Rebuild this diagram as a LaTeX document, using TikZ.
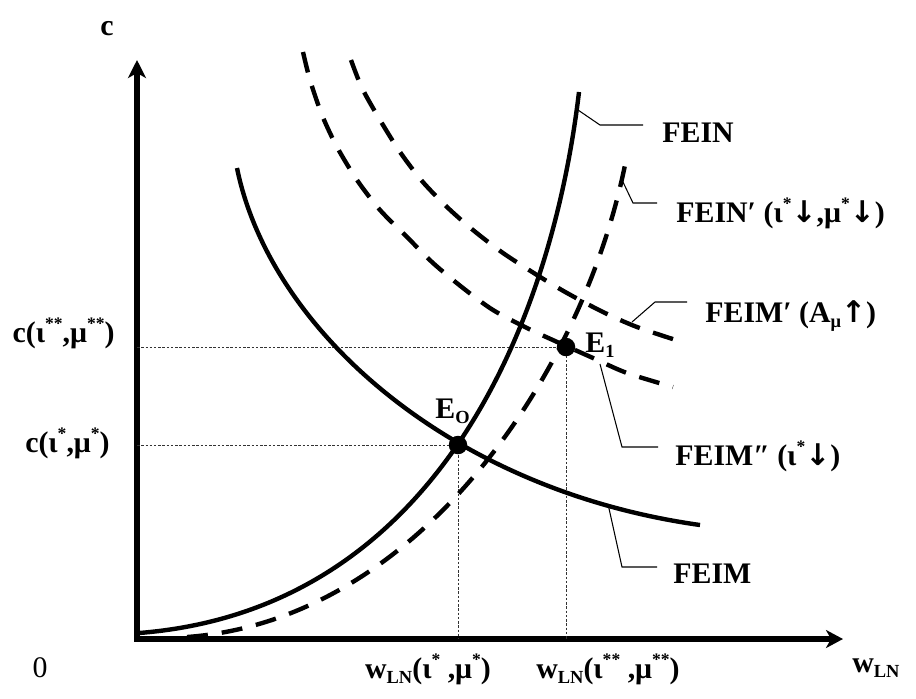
\documentclass[tikz,border=0pt]{standalone}
\usepackage{fontspec}
\setmainfont{Liberation Serif}
\newfontfamily\arrowfont{DejaVu Sans}
\usetikzlibrary{arrows.meta}

\newcommand{\upstar}[1]{\raisebox{0.9ex}{\fontsize{10}{10}\selectfont #1}}
\newcommand{\lowtxt}[1]{\raisebox{-0.4ex}{\fontsize{10.5}{10}\selectfont #1}}
\newcommand{\dn}{{\arrowfont\bfseries ↓}}
\newcommand{\upar}{{\arrowfont\bfseries ↑}}

\begin{document}
\begin{tikzpicture}[
    x=0.02cm, y=-0.02cm,
    every node/.style={font=\fontsize{17}{20}\selectfont\bfseries, inner sep=0pt},
    axis/.style={line width=2.9pt, {Stealth[length=3.6mm, width=3.6mm, inset=1mm]}-{Stealth[length=3.4mm, width=3.6mm, inset=1mm]}},
    curve/.style={line width=2.5pt},
    dashcurve/.style={line width=2.5pt, dash pattern=on 4.2mm off 2.8mm},
    guide/.style={line width=0.2mm, dash pattern=on 0.5mm off 0.35mm, black!80},
    leader/.style={line width=0.6pt},
    eqdot/.style={circle, fill, minimum size=3.7mm, inner sep=0pt}
]
\useasboundingbox (0,0) rectangle (916,698);

% Axes
\coordinate (O) at (137,639);
\coordinate (ytop) at (137,60);
\coordinate (xend) at (843,639);
\draw[axis] (ytop) -- (O) -- (xend);

\node[anchor=base] (clbl) at (107,35) {c};
\node[anchor=base, font=\fontsize{17}{20}\selectfont\mdseries] (zero) at (40,677) {0};
\node[anchor=base west] (wlbl) at (852,672) {w\lowtxt{LN}};

% Equilibria and guide lines
\coordinate (E0) at (458,445);
\coordinate (E1) at (566,347);
\coordinate (cOne) at (137,445);
\coordinate (cTwo) at (137,347);
\coordinate (wOne) at (458,639);
\coordinate (wTwo) at (566,639);
\draw[guide] (cOne) -- (E0) -- (wOne);
\draw[guide] (cTwo) -- (E1) -- (wTwo);

% FEIN and FEIN'
\draw[curve] (139,633) .. controls (430,610) and (550,335) .. (579,92);
\draw[dashcurve] (187,637) .. controls (420,620) and (585,370) .. (626,160);

% FEIM, FEIM' and FEIM''
\draw[curve] (237,168) .. controls (270,330) and (450,490) .. (700,525);
\draw[dashcurve] plot[smooth] coordinates {(351,60) (362,88) (380,120) (400,152) (422,181) (447,207) (473,230) (503,253) (537,275) (567,293) (603,312) (637,327) (682,342)};
\draw[dashcurve] plot[smooth] coordinates {(303,52) (310,80) (322,115) (337,147) (357,180) (380,210) (407,237) (433,263) (463,288) (493,310) (527,328) (555,341) (593,358) (627,373) (673,387)};

\node[eqdot] (dotE0) at (E0) {};
\node[eqdot] (dotE1) at (E1) {};
\node[anchor=base west] (lblE0) at (435,418) {E\lowtxt{O}};
\node[anchor=base west] (lblE1) at (585,352) {E\lowtxt{1}};

% Axis values
\node[anchor=base east] (cHigh) at (115,342) {c(ι\upstar{**},μ\upstar{**})};
\node[anchor=base east] (cLow) at (110,452) {c(ι\upstar{*},μ\upstar{*})};
\node[anchor=base] (wLow) at (428,678) {w\lowtxt{LN}(ι\upstar{*} ,μ\upstar{*})};
\node[anchor=base] (wHigh) at (608,678) {w\lowtxt{LN}(ι\upstar{**} ,μ\upstar{**})};

% Curve labels
\coordinate (feinA) at (578,110);
\coordinate (feinB) at (643,125);
\draw[leader] (feinA) -- (600,125) -- (feinB);
\node[anchor=base west] (fein) at (662,142) {FEIN};

\coordinate (feinpA) at (622,180);
\coordinate (feinpB) at (657,203);
\draw[leader] (feinpA) -- (633,203) -- (feinpB);
\node[anchor=base west] (feinp) at (676,222) {FEIN′ (ι\upstar{*}\dn,μ\upstar{*}\dn)};

\coordinate (feimpA) at (632,322);
\coordinate (feimpB) at (687,302);
\draw[leader] (feimpA) -- (655,302) -- (feimpB);
\node[anchor=base west] (feimp) at (705,322) {FEIM′ (A\lowtxt{μ}\upar)};

\coordinate (feimppA) at (600,364);
\coordinate (feimppB) at (658,447);
\draw[leader] (feimppA) -- (622,447) -- (feimppB);
\node[anchor=base west] (feimpp) at (675,465) {FEIM″ (ι\upstar{*}\dn)};

\coordinate (feimA) at (608,504);
\coordinate (feimB) at (657,567);
\draw[leader] (feimA) -- (622,567) -- (feimB);
\node[anchor=base west] (feim) at (673,583) {FEIM};

\end{tikzpicture}
\end{document}
